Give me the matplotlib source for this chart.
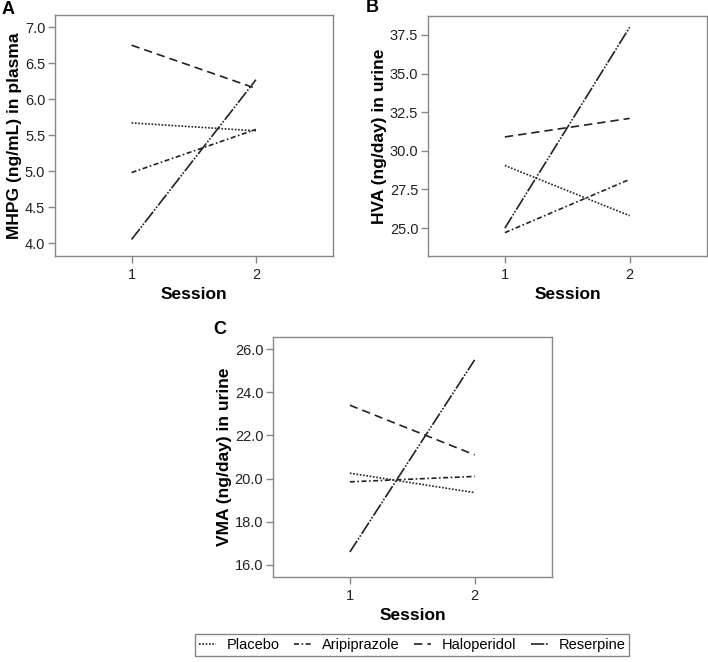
import matplotlib.pyplot as plt
from matplotlib.lines import Line2D

plt.rcParams['font.family'] = ['Liberation Sans', 'DejaVu Sans']

sessions = [1, 2]
groups = ['Placebo', 'Aripiprazole', 'Haloperidol', 'Reserpine']

# panel values (session 1, session 2)
mhpg = {'Placebo': [5.67, 5.56], 'Aripiprazole': [4.98, 5.58],
        'Haloperidol': [6.75, 6.15], 'Reserpine': [4.05, 6.27]}
hva = {'Placebo': [29.05, 25.8], 'Aripiprazole': [24.7, 28.15],
       'Haloperidol': [30.9, 32.1], 'Reserpine': [25.0, 38.0]}
vma = {'Placebo': [20.25, 19.35], 'Aripiprazole': [19.85, 20.1],
       'Haloperidol': [23.4, 21.1], 'Reserpine': [16.6, 25.5]}

styles = {'Placebo': (0, (1, 1)),
          'Aripiprazole': (0, (3, 1.5, 1, 1.5)),
          'Haloperidol': (0, (5, 3)),
          'Reserpine': (0, (8, 1, 1, 1, 1, 1))}

fig = plt.figure(figsize=(7.08, 6.62), dpi=100)


def panel(rect, data, ylabel, yticks, ylim, letter, letter_xy):
    ax = fig.add_axes(rect)
    for g in groups:
        ax.plot(sessions, data[g], color='#222222', lw=1.2, linestyle=styles[g])
    ax.set_xlim(0.384, 2.62)
    ax.set_ylim(*ylim)
    ax.set_xticks(sessions)
    ax.set_yticks(yticks)
    ax.set_yticklabels(['{:.1f}'.format(v) for v in yticks])
    for s in ax.spines.values():
        s.set_color('#888888')
        s.set_linewidth(1.0)
    ax.tick_params(colors='#888888', labelcolor='#222222', labelsize=10.5, length=5, width=1)
    ax.tick_params(axis='y', pad=2)
    ax.set_xlabel('Session', fontsize=12.5, fontweight='bold', labelpad=4)
    ax.set_ylabel(ylabel, fontsize=12.5, fontweight='bold', labelpad=2)
    fig.text(letter_xy[0] / 708, 1 - letter_xy[1] / 662, letter, fontsize=13,
             fontweight='bold', va='center', ha='left')
    return ax


panel([55 / 708, 1 - 256 / 662, 278 / 708, 241 / 662], mhpg, 'MHPG (ng/mL) in plasma',
      [4.0, 4.5, 5.0, 5.5, 6.0, 6.5, 7.0], (3.82, 7.17), 'A', (2, 9))
panel([428 / 708, 1 - 256 / 662, 279 / 708, 240 / 662], hva, 'HVA (ng/day) in urine',
      [25.0, 27.5, 30.0, 32.5, 35.0, 37.5], (23.19, 38.73), 'B', (366, 8))
panel([273 / 708, 1 - 577 / 662, 279 / 708, 240 / 662], vma, 'VMA (ng/day) in urine',
      [16.0, 18.0, 20.0, 22.0, 24.0, 26.0], (15.44, 26.56), 'C', (213, 330))

handles = [Line2D([], [], color='#222222', lw=1.2, linestyle=styles[g]) for g in groups]
leg = fig.legend(handles, groups, loc='center', bbox_to_anchor=(412 / 708, 1 - 645 / 662),
                 ncol=4, frameon=True, fancybox=False, fontsize=10.5, handlelength=1.2,
                 columnspacing=1.0, borderpad=0.25, handletextpad=0.7)
leg.get_frame().set_edgecolor('#666666')
leg.get_frame().set_linewidth(1.0)

fig.savefig('out.png', dpi=100)
